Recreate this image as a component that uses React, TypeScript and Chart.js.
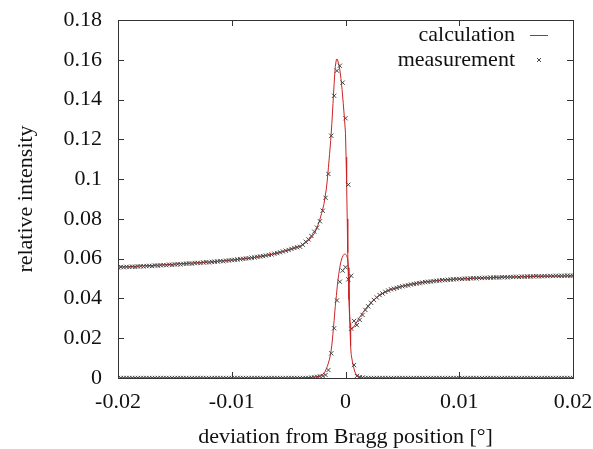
import React, { useEffect, useRef } from "react";
import { Chart, registerables } from "chart.js";
Chart.register(...registerables);

// ---- axes ----
const X_MIN = -0.02;
const X_MAX = 0.02;
const X_STEP = 0.01;
const Y_MIN = 0;
const Y_MAX = 0.18;
const Y_STEP = 0.02;
const xTickLabels = ["-0.02", "-0.01", "0", "0.01", "0.02"];
const yTickLabels = ["0", "0.02", "0.04", "0.06", "0.08", "0.1", "0.12", "0.14", "0.16", "0.18"];
const xTitle = "deviation from Bragg position [°]";
const yTitle = "relative intensity";
const seriesNames = ["calculation", "measurement"];

const measStart = -0.02;
const measStep = 0.00025;

// upper branch measurement (161 samples, -0.02 .. 0.02)
const measUpper = [
  0.0556, 0.0558, 0.0557, 0.0559, 0.0558, 0.056, 0.0559, 0.0561, 0.0562, 0.0561, 0.0563, 0.0564, 0.0563, 0.0566, 0.0565, 0.0567, 0.0568, 0.0567, 0.057, 0.0569,
  0.0571, 0.0572, 0.0571, 0.0574, 0.0575, 0.0576, 0.0575, 0.0578, 0.0579, 0.0578, 0.0581, 0.0582, 0.0581, 0.0584, 0.0585, 0.0586, 0.0588, 0.0587, 0.059, 0.0591,
  0.0593, 0.0594, 0.0596, 0.0597, 0.0599, 0.0601, 0.0602, 0.0605, 0.0606, 0.0609, 0.0611, 0.0613, 0.0616, 0.0619, 0.0621, 0.0625, 0.0628, 0.0632, 0.0636, 0.064,
  0.0644, 0.0649, 0.0654, 0.0657,
  0.066, 0.067, 0.0685, 0.0697, 0.0714, 0.0736, 0.0756, 0.0788, 0.0841, 0.0906, 0.1026, 0.1218, 0.1419, 0.1545, 0.157, 0.1485, 0.1306, 0.0972, 0.0514, 0.0287, 0.0266, 0.0292, 0.0317,
  0.0342, 0.036, 0.0378, 0.0392, 0.0405, 0.0417, 0.0425, 0.0433, 0.044, 0.0446, 0.0449, 0.0453, 0.0457, 0.0461, 0.0464, 0.0466, 0.047, 0.0473, 0.0475, 0.0477,
  0.048, 0.0482, 0.0484, 0.0485, 0.0487, 0.0489, 0.049, 0.0492, 0.0492, 0.0494, 0.0495, 0.0496, 0.0497, 0.0498, 0.0498, 0.05, 0.0499, 0.0501, 0.0502, 0.0501,
  0.0503, 0.0503, 0.0504, 0.0503, 0.0505, 0.0505, 0.0506, 0.0505, 0.0507, 0.0507, 0.0506, 0.0508, 0.0508, 0.0509, 0.0508, 0.051, 0.0509, 0.0511, 0.051, 0.0511,
  0.0512, 0.0511, 0.0512, 0.0513, 0.0512, 0.0513, 0.0513, 0.0514, 0.0513, 0.0514, 0.0514, 0.0515, 0.0514, 0.0515,
];

// lower branch measurement (161 samples, -0.02 .. 0.02)
const measLower = [
  0, 0, 0, 0, 0, 0, 0, 0, 0, 0, 0, 0, 0, 0, 0, 0, 0, 0, 0, 0,
  0, 0, 0, 0, 0, 0, 0, 0, 0, 0, 0, 0, 0, 0, 0, 0, 0, 0, 0, 0,
  0, 0, 0, 0, 0, 0, 0, 0, 0, 0, 0, 0, 0, 0, 0, 0, 0, 0, 0, 0,
  0, 0, 0, 0, 0, 0, 0, 0,
  0.0002, 0.0003, 0.0006, 0.0008, 0.001, 0.0015, 0.004, 0.0124, 0.025, 0.039, 0.0484, 0.054, 0.0557, 0.0496, 0.0248, 0.0065, 0.001, 0.0004, 0.0002,
  0, 0, 0, 0, 0, 0, 0, 0, 0, 0, 0, 0, 0, 0, 0, 0, 0, 0, 0, 0,
  0, 0, 0, 0, 0, 0, 0, 0, 0, 0, 0, 0, 0, 0, 0, 0, 0, 0, 0, 0,
  0, 0, 0, 0, 0, 0, 0, 0, 0, 0, 0, 0, 0, 0, 0, 0, 0, 0, 0, 0,
  0, 0, 0, 0, 0, 0, 0, 0, 0, 0, 0, 0, 0, 0,
];

// calculation, upper branch
const calcUpperX = [
  -0.02, -0.018, -0.016, -0.014, -0.012, -0.01, -0.009, -0.008, -0.007, -0.006, -0.005, -0.0045, -0.004, -0.0035, -0.003, -0.0027,
  -0.0025, -0.0023, -0.0021, -0.0019, -0.0017, -0.0016, -0.0015, -0.0014, -0.0013, -0.0012, -0.0011, -0.001, -0.0009, -0.0008,
  -0.00075, -0.0007, -0.0006, -0.0005, -0.0004, -0.0003, -0.0002, -0.0001, 0, 0.00005, 0.0001, 0.00015, 0.0002, 0.00025, 0.0003,
  0.00035, 0.0004, 0.00045, 0.0005, 0.0006, 0.0007, 0.0009, 0.0012, 0.0016, 0.002, 0.0025, 0.003, 0.0035, 0.004, 0.005, 0.006,
  0.007, 0.008, 0.009, 0.01, 0.012, 0.014, 0.016, 0.018, 0.02,
];
const calcUpperY = [
  0.0557, 0.0563, 0.0569, 0.0576, 0.0583, 0.0593, 0.0599, 0.0606, 0.0616, 0.0628, 0.0644, 0.0653, 0.0663, 0.068, 0.0706, 0.073,
  0.0757, 0.0788, 0.0828, 0.0872, 0.0945, 0.0995, 0.106, 0.1125, 0.1195, 0.128, 0.138, 0.148, 0.1565, 0.1602,
  0.1604, 0.16, 0.158, 0.155, 0.1507, 0.145, 0.1382, 0.131, 0.123, 0.111, 0.0975, 0.08, 0.063, 0.05, 0.0395,
  0.0318, 0.0275, 0.0255, 0.0248, 0.0247, 0.0254, 0.0272, 0.0302, 0.0335, 0.0364, 0.0394, 0.0417, 0.0433, 0.0445, 0.0462, 0.0474,
  0.0483, 0.049, 0.0495, 0.0498, 0.0503, 0.0507, 0.051, 0.0512, 0.0514,
];

// calculation, lower branch
const calcLowerX = [
  -0.02, -0.004, -0.003, -0.0025, -0.0022, -0.002, -0.0018, -0.0016, -0.0014, -0.0013, -0.0012, -0.0011, -0.001, -0.0009,
  -0.0008, -0.0007, -0.0006, -0.0005, -0.0004, -0.0003, -0.0002, -0.0001, 0, 0.0001, 0.00018, 0.00025, 0.0003, 0.00035,
  0.0004, 0.00045, 0.0005, 0.0006, 0.0007, 0.0008, 0.0009, 0.001, 0.0012, 0.0014, 0.0016, 0.02,
];
const calcLowerY = [
  0, 0, 0.0003, 0.0006, 0.001, 0.0018, 0.0032, 0.0058, 0.0095, 0.0124, 0.0165, 0.0225, 0.029, 0.036,
  0.0415, 0.0475, 0.052, 0.0557, 0.0585, 0.0605, 0.0617, 0.0623, 0.0622, 0.0617, 0.06, 0.0555, 0.0476, 0.036,
  0.0241, 0.016, 0.0118, 0.0085, 0.0057, 0.0035, 0.0021, 0.0014, 0.0006, 0.0002, 0, 0,
];

// ---- style ----
const FONT_FAMILY = '"Liberation Serif", "Times New Roman", serif';
const FONT_SIZE = 22;
const TEXT_COLOR = "#111111";
const CALC_COLOR = "#cc2424";
const MEAS_COLOR = "#444444";
const FRAME_COLOR = "#333333";
const TICK_LEN = 6;

const toPoints = (xs: number[], ys: number[]) => ys.map((y, i) => ({ x: xs[i], y }));
const measPoints = (ys: number[]) => ys.map((y, i) => ({ x: measStart + i * measStep, y }));

const frameTicksPlugin = {
  id: "frameTicks",
  beforeDatasetsDraw(chart: any) {
    const { ctx, chartArea, scales } = chart;
    const { left, right, top, bottom } = chartArea;
    ctx.save();
    ctx.strokeStyle = FRAME_COLOR;
    ctx.lineWidth = 1;
    ctx.beginPath();
    scales.x.ticks.forEach((t: any) => {
      const px = Math.round(scales.x.getPixelForValue(t.value)) + 0.5;
      ctx.moveTo(px, bottom);
      ctx.lineTo(px, bottom - TICK_LEN);
      ctx.moveTo(px, top);
      ctx.lineTo(px, top + TICK_LEN);
    });
    scales.y.ticks.forEach((t: any) => {
      const py = Math.round(scales.y.getPixelForValue(t.value)) + 0.5;
      ctx.moveTo(left, py);
      ctx.lineTo(left + TICK_LEN, py);
      ctx.moveTo(right, py);
      ctx.lineTo(right - TICK_LEN, py);
    });
    ctx.stroke();
    ctx.strokeRect(Math.round(left) + 0.5, Math.round(top) + 0.5, Math.round(right - left), Math.round(bottom - top));
    ctx.restore();
  },
  afterDraw(chart: any) {
    const { ctx, chartArea } = chart;
    const textRight = chartArea.right - 58;
    const row1 = chartArea.top + 15;
    const row2 = chartArea.top + 40;
    ctx.save();
    ctx.font = `${FONT_SIZE}px ${FONT_FAMILY}`;
    ctx.fillStyle = TEXT_COLOR;
    ctx.textAlign = "right";
    ctx.textBaseline = "middle";
    ctx.fillText(seriesNames[0], textRight, row1);
    ctx.fillText(seriesNames[1], textRight, row2);
    ctx.strokeStyle = CALC_COLOR;
    ctx.lineWidth = 1;
    ctx.beginPath();
    ctx.moveTo(textRight + 15, row1 + 0.5);
    ctx.lineTo(textRight + 33, row1 + 0.5);
    ctx.stroke();
    const mx = textRight + 24;
    const my = row2;
    ctx.strokeStyle = MEAS_COLOR;
    ctx.beginPath();
    ctx.moveTo(mx - 2, my - 2);
    ctx.lineTo(mx + 2, my + 2);
    ctx.moveTo(mx - 2, my + 2);
    ctx.lineTo(mx + 2, my - 2);
    ctx.stroke();
    ctx.restore();
  },
};

const zeroPadding = (scale: any) => {
  scale.paddingLeft = 0;
  scale.paddingRight = 0;
  scale.paddingTop = 0;
  scale.paddingBottom = 0;
};

export default function App() {
  const canvasRef = useRef<HTMLCanvasElement | null>(null);

  useEffect(() => {
    if (!canvasRef.current) return;
    const measCommon = {
      type: "scatter" as const,
      showLine: false,
      pointStyle: "crossRot" as const,
      pointRadius: 3,
      pointHoverRadius: 3,
      pointBorderWidth: 1,
      borderColor: MEAS_COLOR,
      backgroundColor: MEAS_COLOR,
      order: 0,
    };
    const calcCommon = {
      type: "scatter" as const,
      showLine: true,
      pointRadius: 0,
      borderWidth: 1,
      borderColor: CALC_COLOR,
      backgroundColor: CALC_COLOR,
      tension: 0,
      order: 1,
    };
    const chart = new Chart(canvasRef.current, {
      type: "scatter",
      data: {
        datasets: [
          { ...measCommon, label: seriesNames[1], data: measPoints(measUpper) },
          { ...measCommon, label: seriesNames[1] + " ", data: measPoints(measLower) },
          { ...calcCommon, label: seriesNames[0], data: toPoints(calcUpperX, calcUpperY) },
          { ...calcCommon, label: seriesNames[0] + " ", data: toPoints(calcLowerX, calcLowerY) },
        ] as any,
      },
      options: {
        animation: false,
        responsive: false,
        maintainAspectRatio: false,
        events: [],
        layout: { padding: { left: 0, right: 20, top: 20, bottom: 0 } },
        plugins: {
          legend: { display: false },
          tooltip: { enabled: false },
        },
        scales: {
          x: {
            type: "linear",
            min: X_MIN,
            max: X_MAX,
            afterFit: (scale: any) => {
              scale.height = 71;
              zeroPadding(scale);
            },
            afterBuildTicks: (scale: any) => {
              scale.ticks = xTickLabels.map((_, i) => ({ value: X_MIN + i * X_STEP }));
            },
            ticks: {
              padding: 11,
              color: TEXT_COLOR,
              font: { family: FONT_FAMILY, size: FONT_SIZE },
              callback: (v: any) => xTickLabels[Math.round((Number(v) - X_MIN) / X_STEP)] ?? "",
              maxRotation: 0,
              autoSkip: false,
            },
            grid: { display: false, drawTicks: false },
            border: { display: false },
            title: {
              display: true,
              text: xTitle,
              color: TEXT_COLOR,
              font: { family: FONT_FAMILY, size: FONT_SIZE },
              padding: { top: 0, bottom: -1 },
            },
          },
          y: {
            type: "linear",
            min: Y_MIN,
            max: Y_MAX,
            afterFit: (scale: any) => {
              scale.width = 118;
              zeroPadding(scale);
            },
            afterBuildTicks: (scale: any) => {
              scale.ticks = yTickLabels.map((_, i) => ({ value: Y_MIN + i * Y_STEP }));
            },
            ticks: {
              padding: 16,
              color: TEXT_COLOR,
              font: { family: FONT_FAMILY, size: FONT_SIZE },
              callback: (v: any) => yTickLabels[Math.round((Number(v) - Y_MIN) / Y_STEP)] ?? "",
              autoSkip: false,
            },
            grid: { display: false, drawTicks: false },
            border: { display: false },
            title: {
              display: true,
              text: yTitle,
              color: TEXT_COLOR,
              font: { family: FONT_FAMILY, size: FONT_SIZE },
              padding: { top: 13, bottom: 0 },
            },
          },
        },
      },
      plugins: [frameTicksPlugin],
    });
    return () => chart.destroy();
  }, []);

  return (
    <div style={{ position: "absolute", left: 0, top: 0, width: 593, height: 449, background: "#ffffff" }}>
      <canvas ref={canvasRef} width={593} height={449} style={{ display: "block" }} />
    </div>
  );
}
